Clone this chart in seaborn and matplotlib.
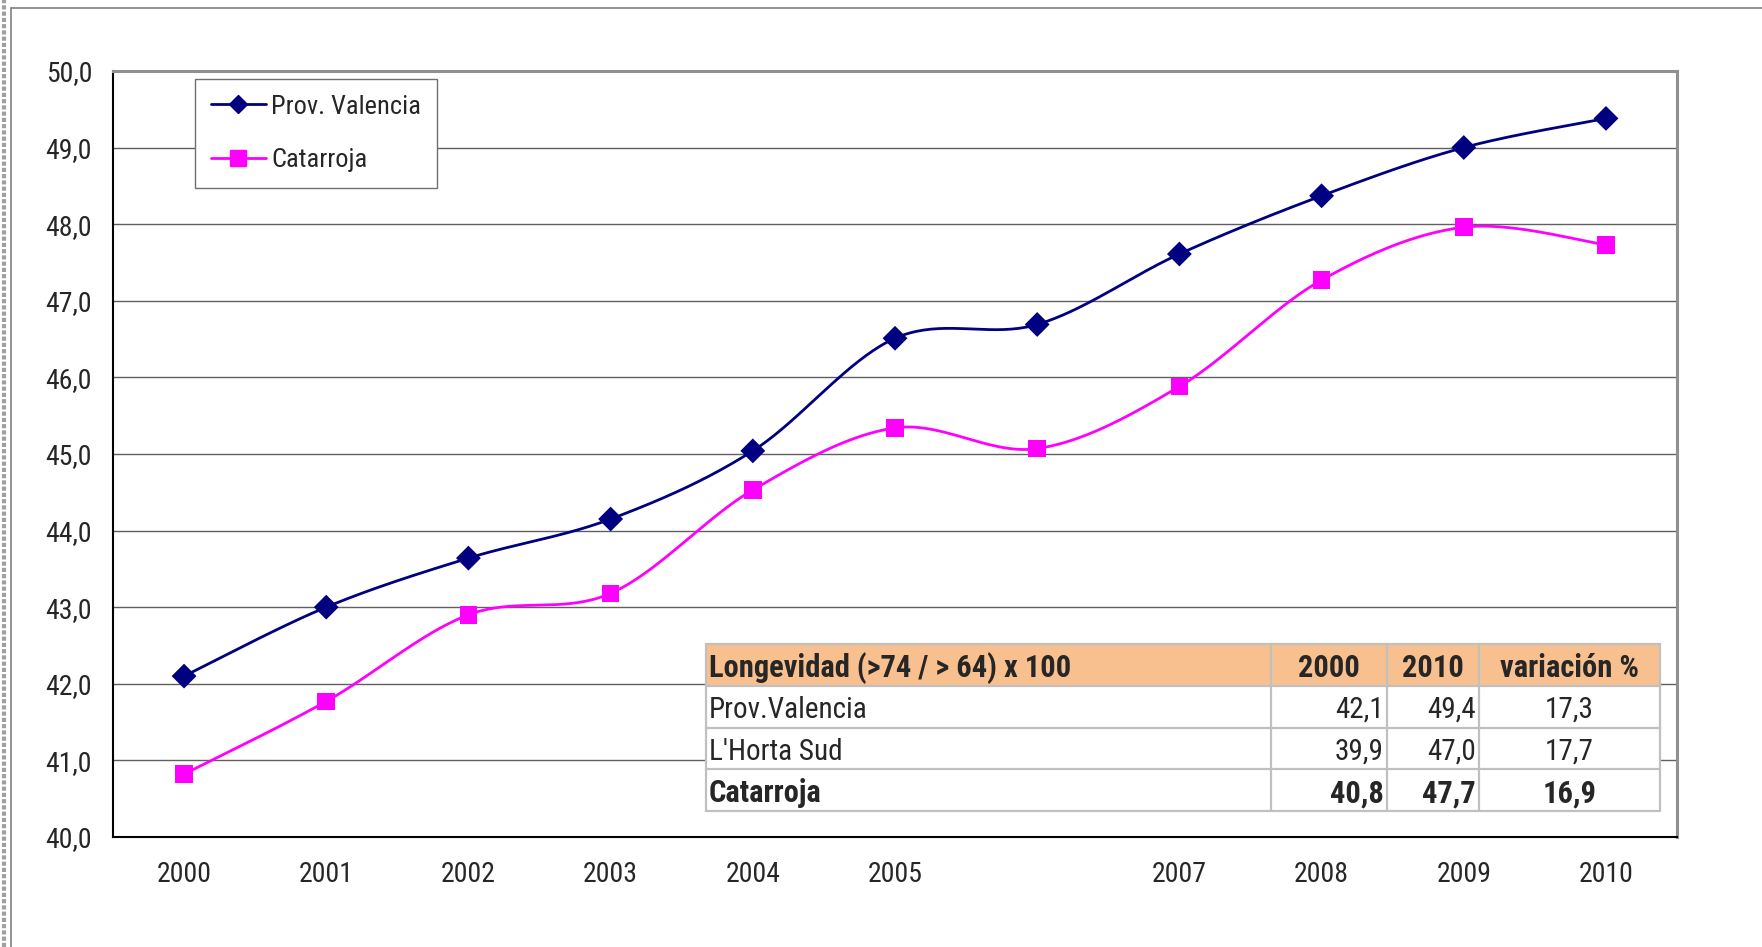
import numpy as np
import pandas as pd
import matplotlib.pyplot as plt
import seaborn as sns
from matplotlib import font_manager
from matplotlib.lines import Line2D
from matplotlib.patches import Rectangle

# Data
years = ['2000', '2001', '2002', '2003', '2004', '2005', '2006', '2007', '2008', '2009', '2010']
year_labels = ['2000', '2001', '2002', '2003', '2004', '2005', '', '2007', '2008', '2009', '2010']
prov_valencia = [42.1, 43.0, 43.64, 44.15, 45.04, 46.51, 46.69, 47.61, 48.37, 49.0, 49.38]
catarroja = [40.82, 41.77, 42.9, 43.18, 44.53, 45.34, 45.07, 45.88, 47.27, 47.96, 47.73]

table_header = ['Longevidad (>74 / > 64) x 100', '2000', '2010', 'variación %']
table_rows = ['Prov.Valencia', "L'Horta Sud", 'Catarroja']
table_2000 = ['42,1', '39,9', '40,8']
table_2010 = ['49,4', '47,0', '47,7']
table_var = ['17,3', '17,7', '16,9']

colors = {'Prov. Valencia': '#000080', 'Catarroja': '#FF00FF'}
markers = {'Prov. Valencia': 'D', 'Catarroja': 's'}

sns.set_style('white')
installed = {f.name for f in font_manager.fontManager.ttflist}
narrow = [f for f in ['Liberation Sans Narrow', 'Roboto Condensed', 'Open Sans Condensed'] if f in installed]
if narrow:
    plt.rcParams['font.family'] = [narrow[0], 'DejaVu Sans']
    fs, lfs, hfs, bfs = 20, 19, 22, 21
else:
    plt.rcParams['font.family'] = ['Liberation Sans', 'DejaVu Sans']
    fs, lfs, hfs, bfs = 17.5, 17.5, 18, 18

df = pd.DataFrame({
    'pos': list(range(len(years))) * 2,
    'value': prov_valencia + catarroja,
    'serie': ['Prov. Valencia'] * len(years) + ['Catarroja'] * len(years),
})


def smooth(x, y, n=40):
    # Excel-like smoothed line (cubic bezier through the points)
    pts = np.column_stack([x, y]).astype(float)
    out = []
    for i in range(len(pts) - 1):
        p0 = pts[i - 1] if i > 0 else pts[i]
        p1, p2 = pts[i], pts[i + 1]
        p3 = pts[i + 2] if i + 2 < len(pts) else pts[i + 1]
        c1 = p1 + (p2 - p0) / 6
        c2 = p2 - (p3 - p1) / 6
        t = np.linspace(0, 1, n)[:, None]
        seg = (1 - t) ** 3 * p1 + 3 * (1 - t) ** 2 * t * c1 + 3 * (1 - t) * t ** 2 * c2 + t ** 3 * p2
        out.append(seg if i == 0 else seg[1:])
    out = np.vstack(out)
    return out[:, 0], out[:, 1]


fig = plt.figure(figsize=(17.62, 9.47), dpi=100)
ax = fig.add_axes([0.0641, 0.1162, 0.8877, 0.8089])

for name, vals in [('Prov. Valencia', prov_valencia), ('Catarroja', catarroja)]:
    sx, sy = smooth(np.arange(len(vals)), vals)
    ax.plot(sx, sy, color=colors[name], lw=2, zorder=3)

sns.scatterplot(data=df, x='pos', y='value', hue='serie', style='serie',
                palette=colors, markers=markers, s=160, linewidth=0,
                legend=False, ax=ax, zorder=4)

ax.set_xlim(-0.5, len(years) - 0.5)
ax.set_ylim(40, 50)
ax.set_yticks(np.arange(40, 50.1, 1))
ax.set_yticklabels([f'{v:.1f}'.replace('.', ',') for v in np.arange(40, 50.1, 1)])
ax.set_xticks(range(len(years)))
ax.set_xticklabels(year_labels)
ax.set_xticks(np.arange(-0.5, len(years), 1), minor=True)
ax.tick_params(axis='x', which='major', length=0, pad=17, labelsize=fs)
ax.tick_params(axis='x', which='minor', length=9, width=1, color='#333333', direction='out')
ax.tick_params(axis='y', length=8, width=1, color='#333333', pad=7, labelsize=fs, direction='out')
ax.set_xlabel('')
ax.set_ylabel('')

ax.grid(axis='y', color='#606060', lw=1)
ax.set_axisbelow(True)
for s in ['left', 'bottom']:
    ax.spines[s].set_color('black')
    ax.spines[s].set_linewidth(1.5)
for s in ['top', 'right']:
    ax.spines[s].set_color('#909090')
    ax.spines[s].set_linewidth(2.2)

handles = [Line2D([], [], color=colors[k], marker=markers[k], lw=2,
                  markersize=11 if k == 'Catarroja' else 9.5, label=k) for k in colors]
leg = ax.legend(handles=handles, loc='upper left', bbox_to_anchor=(0.0524, 0.9896),
                borderaxespad=0, fontsize=lfs, frameon=True, fancybox=False,
                framealpha=1, edgecolor='#707070', handlelength=2.1,
                handletextpad=0.2, labelspacing=1.1, borderpad=0.6)
leg.get_frame().set_linewidth(1)

# table overlay
tax = fig.add_axes([0.4007, 0.1436, 0.5414, 0.1763])
tax.set_xlim(0, 954)
tax.set_ylim(4, 0)
tax.axis('off')
col_edges = [0, 565, 681, 773, 954]
tax.add_patch(Rectangle((0, 0), 954, 1, facecolor='#F9C08F', edgecolor='none'))
tax.add_patch(Rectangle((0, 1), 954, 3, facecolor='white', edgecolor='none'))
for e in col_edges:
    tax.plot([e, e], [0, 4], color='#C0C0C0', lw=1.6, clip_on=False)
for r in range(5):
    tax.plot([0, 954], [r, r], color='#C0C0C0', lw=1.6, clip_on=False)

tax.text(3, 0.58, table_header[0], ha='left', va='center', fontsize=hfs, fontweight='bold')
for c in range(1, 4):
    tax.text((col_edges[c] + col_edges[c + 1]) / 2, 0.58, table_header[c], ha='center',
             va='center', fontsize=hfs, fontweight='bold')
for r, name in enumerate(table_rows):
    w = 'bold' if name == 'Catarroja' else 'normal'
    f = hfs if w == 'bold' else bfs
    y = r + 1.58
    tax.text(3, y, name, ha='left', va='center', fontsize=f, fontweight=w)
    tax.text(col_edges[2] - 3, y, table_2000[r], ha='right', va='center', fontsize=f, fontweight=w)
    tax.text(col_edges[3] - 3, y, table_2010[r], ha='right', va='center', fontsize=f, fontweight=w)
    tax.text((col_edges[3] + col_edges[4]) / 2, y, table_var[r], ha='center', va='center',
             fontsize=f, fontweight=w)

# outer chart frame
fig.add_artist(Line2D([11 / 1762, 1], [1 - 8 / 947, 1 - 8 / 947], color='#808080', lw=1.2))
fig.add_artist(Line2D([11 / 1762, 11 / 1762], [0, 1 - 8 / 947], color='#808080', lw=1.2))
fig.add_artist(Line2D([4 / 1762, 4 / 1762], [0, 1], color='#A0A0A0', lw=3,
                      linestyle=(0, (1, 0.5)), dash_capstyle='butt'))

fig.savefig('out.png', dpi=100)
